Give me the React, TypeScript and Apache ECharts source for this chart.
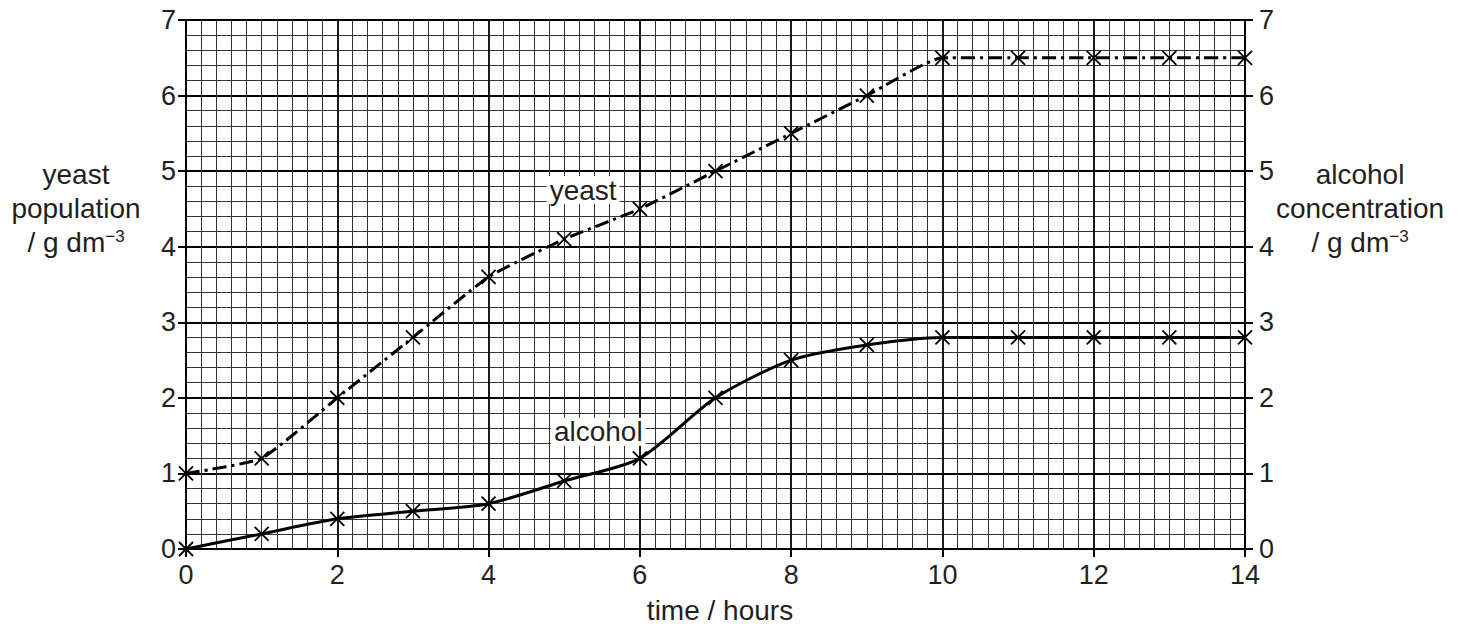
import React, { useEffect, useRef } from "react";
import * as echarts from "echarts";

const hours = [0, 1, 2, 3, 4, 5, 6, 7, 8, 9, 10, 11, 12, 13, 14];
const yeastValues = [1.0, 1.2, 2.0, 2.8, 3.6, 4.1, 4.5, 5.0, 5.5, 6.0, 6.5, 6.5, 6.5, 6.5, 6.5];
const alcoholValues = [0, 0.2, 0.4, 0.5, 0.6, 0.9, 1.2, 2.0, 2.5, 2.7, 2.8, 2.8, 2.8, 2.8, 2.8];
const seriesLabels = [
  { name: "yeast", x: 5.25, y: 4.75 },
  { name: "alcohol", x: 5.45, y: 1.55 },
];
const leftTitle = ["yeast", "population"];
const rightTitle = ["alcohol", "concentration"];
const xTitle = "time / hours";

const FONT = "'Liberation Sans', Arial, Helvetica, sans-serif";
const INK = "#231f20";
const CROSS = "path://M0,0L10,10M10,0L0,10";

export default function App() {
  const ref = useRef<HTMLDivElement>(null);
  useEffect(() => {
    document.body.style.margin = "0";
    const chart = echarts.init(ref.current!, null, { renderer: "svg" });
    const unitText = (cx: number, y: number) => ({
      type: "text",
      x: cx,
      y: y,
      style: {
        text: "/ g dm{sup|−3}",
        font: `28px ${FONT}`,
        fill: INK,
        textAlign: "center",
        rich: {
          sup: { fontSize: 17, fontFamily: FONT, fill: INK, padding: [0, 0, 12, 0] },
        },
      },
    });
    const titleLines = (lines: string[], cx: number, top: number) =>
      lines.map((t, i) => ({
        type: "text",
        x: cx,
        y: top + i * 34,
        style: { text: t, font: `28px ${FONT}`, fill: INK, textAlign: "center" },
      }));
    const yAxisBase = {
      type: "value",
      min: 0,
      max: 7,
      interval: 1,
      axisLine: { show: true, lineStyle: { color: "#000", width: 2 } },
      axisTick: { show: true, length: 8, lineStyle: { color: "#000", width: 2 } },
      axisLabel: { fontSize: 27, fontFamily: FONT, color: INK },
    };
    chart.setOption({
      animation: false,
      backgroundColor: "#fff",
      grid: { left: 186, right: 222, top: 20, bottom: 81, outerBoundsMode: "none", containLabel: false },
      xAxis: {
        type: "value",
        min: 0,
        max: 14,
        interval: 2,
        axisLine: { show: true, lineStyle: { color: "#000", width: 2 } },
        axisTick: { show: true, length: 8, lineStyle: { color: "#000", width: 2 } },
        axisLabel: { fontSize: 27, fontFamily: FONT, color: INK, margin: 12 },
        splitLine: { show: true, lineStyle: { color: "#000", width: 1.8 } },
        minorTick: { show: false, splitNumber: 10 },
        minorSplitLine: { show: true, lineStyle: { color: "#333", width: 1 } },
      },
      yAxis: [
        {
          ...yAxisBase,
          position: "left",
          axisLabel: { ...yAxisBase.axisLabel, margin: 10 },
          splitLine: { show: true, lineStyle: { color: "#000", width: 1.8 } },
          minorTick: { show: false, splitNumber: 5 },
          minorSplitLine: { show: true, lineStyle: { color: "#333", width: 1 } },
        },
        {
          ...yAxisBase,
          position: "right",
          axisLabel: { ...yAxisBase.axisLabel, margin: 14 },
          splitLine: { show: false },
        },
      ],
      series: [
        {
          type: "line",
          name: "yeast",
          data: hours.map((h, i) => [h, yeastValues[i]]),
          smooth: 0.15,
          symbol: CROSS,
          symbolSize: 14,
          itemStyle: { color: "none", borderColor: "#000", borderWidth: 1.8 },
          lineStyle: { color: "#000", width: 3, type: [14, 5, 3, 5] },
          z: 5,
        },
        {
          type: "line",
          name: "alcohol",
          yAxisIndex: 1,
          data: hours.map((h, i) => [h, alcoholValues[i]]),
          smooth: 0.25,
          symbol: CROSS,
          symbolSize: 14,
          itemStyle: { color: "none", borderColor: "#000", borderWidth: 1.8 },
          lineStyle: { color: "#000", width: 3 },
          z: 5,
        },
        {
          type: "scatter",
          symbolSize: 0,
          silent: true,
          itemStyle: { opacity: 1 },
          data: seriesLabels.map((l) => ({ value: [l.x, l.y], name: l.name })),
          label: {
            show: true,
            position: "inside",
            formatter: (p: any) => p.name,
            fontSize: 28,
            fontFamily: FONT,
            color: INK,
            opacity: 1,
            backgroundColor: "#fff",
            padding: [0, 3, 0, 3],
          },
          z: 6,
        },
      ],
      graphic: [
        ...titleLines(leftTitle, 76, 160),
        unitText(76, 228),
        ...titleLines(rightTitle, 1360, 160),
        unitText(1360, 228),
        {
          type: "text",
          x: 720,
          y: 596,
          style: { text: xTitle, font: `28px ${FONT}`, fill: INK, textAlign: "center" },
        },
      ],
    });
    return () => chart.dispose();
  }, []);
  return <div ref={ref} style={{ width: 1467, height: 630 }} />;
}
